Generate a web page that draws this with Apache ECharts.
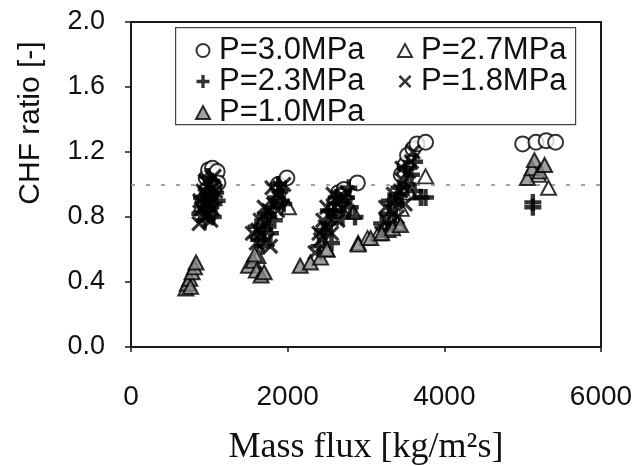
<!DOCTYPE html>
<html>
<head>
<meta charset="utf-8">
<script src="https://cdn.jsdelivr.net/npm/echarts@6/dist/echarts.min.js"></script>
<style>
html,body{margin:0;padding:0;background:#fff;}
#chart{width:641px;height:466px;}
</style>
</head>
<body>
<div id="chart"></div>
<script>
// ---- data (Mass flux [kg/m2s], CHF ratio [-]) ----
const seriesNames = ['P=3.0MPa', 'P=2.7MPa', 'P=2.3MPa', 'P=1.8MPa', 'P=1.0MPa'];
const xTicks = [0, 2000, 4000, 6000];
const yTicks = [0.0, 0.4, 0.8, 1.2, 1.6, 2.0];
const refLine = 1.0;

const p30 = [
  [960,1.04],[990,1.09],[1040,1.10],[1100,1.08],[1110,1.01],[1060,0.98],
  [1880,1.00],[1990,1.04],
  [2650,0.95],[2720,0.97],[2890,1.01],
  [3450,1.06],[3500,1.12],[3530,1.18],[3600,1.22],[3650,1.25],[3760,1.26],
  [5000,1.25],[5170,1.26],[5300,1.27],[5420,1.26]
];
const p27 = [
  [1000,0.95],[1060,1.00],[900,0.88],
  [1700,0.80],[2010,0.86],[1900,0.93],[1620,0.56],
  [2500,0.60],[2840,0.83],[2650,0.88],[2900,0.64],[3020,0.67],[3160,0.70],
  [3280,0.72],[3400,0.76],[3450,0.85],[3560,0.95],[3760,1.05],
  [5200,1.06],[5330,0.98]
];
const p23 = [
  [880,0.82],[920,0.90],[960,0.97],[1010,0.93],[1060,0.88],[1000,0.84],[1080,0.95],[940,0.78],[1030,1.02],
  [900,0.92],[980,1.05],[1050,0.80],[950,0.86],[1100,0.90],
  [1630,0.66],[1700,0.72],[1760,0.80],[1800,0.86],[1850,0.92],[1900,0.96],[1950,0.88],[1780,0.70],[1680,0.62],
  [1600,0.74],[1720,0.82],[1830,0.78],[1880,1.00],[1920,0.90],
  [2400,0.62],[2480,0.70],[2550,0.76],[2600,0.84],[2680,0.90],[2750,0.92],[2800,0.86],[2560,0.64],[2860,0.80],
  [2450,0.72],[2520,0.84],[2620,0.92],[2700,0.80],[2780,0.98],
  [3200,0.76],[3300,0.82],[3380,0.88],[3450,0.94],[3520,1.00],[3580,1.06],[3620,0.96],[3700,0.92],[3760,0.92],
  [3300,0.90],[3420,0.98],[3500,1.10],[3360,0.76],[3620,1.14],
  [5130,0.89],[5130,0.86]
];
const p18 = [
  [870,0.76],[900,0.85],[940,0.80],[970,0.88],[1000,0.90],[1040,0.85],[960,0.94],[1000,1.00],[1060,1.05],[1020,0.78],[920,0.96],
  [880,0.90],[1080,0.96],[990,0.82],[1040,0.98],[950,1.02],
  [1550,0.70],[1600,0.64],[1660,0.70],[1720,0.76],[1760,0.84],[1820,0.88],[1860,0.94],[1800,0.98],[1740,0.66],[1900,0.98],[1780,0.62],
  [1650,0.78],[1700,0.86],[1870,0.84],[1950,1.00],[1620,0.72],
  [2350,0.58],[2420,0.66],[2480,0.74],[2540,0.80],[2600,0.86],[2650,0.92],[2700,0.85],[2560,0.70],[2450,0.78],[2760,0.95],
  [2500,0.86],[2580,0.94],[2640,0.78],[2720,0.92],[2400,0.70],
  [3200,0.70],[3260,0.78],[3320,0.84],[3380,0.90],[3440,0.96],[3480,1.02],[3540,1.08],[3580,1.14],[3400,0.80],[3500,0.88],
  [3250,0.86],[3350,0.94],[3460,1.10],[3600,1.20],[3300,0.74]
];
const p10 = [
  [700,0.36],[720,0.39],[750,0.42],[780,0.46],[810,0.49],[830,0.52],[760,0.37],
  [1500,0.50],[1560,0.53],[1600,0.47],[1660,0.44],[1700,0.46],[1580,0.57],
  [2160,0.50],[2290,0.52],[2420,0.55],[2500,0.60],
  [2900,0.63],[3060,0.67],[3200,0.70],[3340,0.73],[3440,0.75],
  [5060,1.04],[5120,1.10],[5150,1.15],[5220,1.08],[5280,1.12]
];

// ---- styles ----
const PLUS = 'path://M5.2,0H8.8V5.2H14V8.8H8.8V14H5.2V8.8H0V5.2H5.2Z';
const CROSS = 'path://M0,2L2,0L7,5L12,0L14,2L9,7L14,12L12,14L7,9L2,14L0,12L5,7Z';
const SANS = '"Liberation Sans", Arial, sans-serif';
const SERIF = '"Liberation Serif", "Times New Roman", serif';

const styles = [
  {symbol:'circle', size:15, itemStyle:{color:'#fff', borderColor:'#000', borderWidth:2}, z:2},
  {symbol:'triangle', size:[15,14], itemStyle:{color:'#fff', borderColor:'#000', borderWidth:2}, z:2},
  {symbol:PLUS, size:17, itemStyle:{color:'#000'}, z:3},
  {symbol:CROSS, size:16, itemStyle:{color:'#000'}, z:3},
  {symbol:'triangle', size:[15,14], itemStyle:{color:'#8a8a8a', borderColor:'#000', borderWidth:2}, z:4}
];
const datasets = [p30, p27, p23, p18, p10];

const series = datasets.map((d, i) => {
  const s = {
    name: seriesNames[i],
    type: 'scatter',
    data: d,
    symbol: styles[i].symbol,
    symbolSize: styles[i].size,
    itemStyle: styles[i].itemStyle,
    z: styles[i].z,
    emphasis: {disabled: true},
    animation: false
  };
  if (i === 0) {
    s.markLine = {
      silent: true,
      symbol: 'none',
      label: {show: false},
      lineStyle: {type: [4, 11], color: '#888', width: 1.5},
      data: [{yAxis: refLine}],
      z: 1
    };
  }
  return s;
});

function legendItem(i) {
  const st = styles[i];
  return {name: seriesNames[i], icon: st.symbol, itemStyle: Object.assign({}, st.itemStyle)};
}
const legendCommon = {
  orient: 'vertical',
  top: 30,
  itemWidth: 14,
  itemHeight: 13,
  itemGap: 0,
  selectedMode: false,
  textStyle: {fontFamily: SANS, fontSize: 31, color: '#111', lineHeight: 30, padding: [0, 0, 0, 4]}
};

const chart = echarts.init(document.getElementById('chart'), null, {renderer: 'canvas'});
chart.setOption({
  animation: false,
  backgroundColor: '#fff',
  grid: {left: 131, right: 40, top: 22, bottom: 119, show: true, borderColor: '#1a1a1a', borderWidth: 2,
         containLabel: false, outerBoundsMode: 'none'},
  xAxis: {
    type: 'value', min: xTicks[0], max: xTicks[xTicks.length - 1], interval: 2000,
    splitLine: {show: false},
    axisLine: {lineStyle: {color: '#1a1a1a', width: 2}},
    axisTick: {length: 5, lineStyle: {color: '#1a1a1a', width: 1.5}},
    axisLabel: {fontFamily: SANS, fontSize: 28, color: '#111', margin: 36, formatter: v => String(v)},
    name: 'Mass flux [kg/m\u00b2s]',
    nameLocation: 'middle',
    nameGap: 83,
    nameTextStyle: {fontFamily: SERIF, fontSize: 36, color: '#111'}
  },
  yAxis: {
    type: 'value', min: yTicks[0], max: yTicks[yTicks.length - 1], interval: 0.4,
    splitLine: {show: false},
    axisLine: {lineStyle: {color: '#1a1a1a', width: 2}},
    axisTick: {length: 6, lineStyle: {color: '#1a1a1a', width: 1.5}},
    axisLabel: {fontFamily: SANS, fontSize: 27, color: '#111', margin: 26, formatter: v => v.toFixed(1)}
  },
  legend: [
    Object.assign({}, legendCommon, {left: 190, data: [0, 2, 4].map(legendItem)}),
    Object.assign({}, legendCommon, {left: 392, data: [1, 3].map(legendItem)})
  ],
  graphic: [
    {type: 'rect', left: 175, top: 27, shape: {width: 400, height: 97},
     style: {fill: '#fff', stroke: '#444', lineWidth: 1.2}, z: 0, silent: true},
    {type: 'text', x: 31, y: 123, rotation: Math.PI / 2,
     style: {text: 'CHF ratio [-]', font: '30px ' + SANS, fill: '#111', textAlign: 'center', textVerticalAlign: 'middle'}}
  ],
  series: series
});
</script>
</body>
</html>
